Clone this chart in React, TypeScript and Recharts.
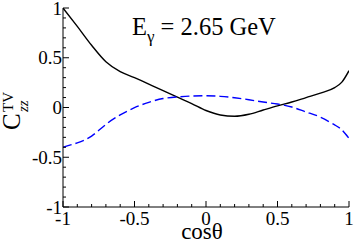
import { Label, Line, LineChart, XAxis, YAxis } from "recharts";

// cos(theta) grid the curves were read at
const cosTheta = [
  -1, -0.9, -0.8, -0.7, -0.6, -0.5, -0.4, -0.3, -0.2, -0.1, 0, 0.1, 0.2, 0.3,
  0.4, 0.5, 0.6, 0.7, 0.8, 0.9, 0.95, 1,
];
// solid black curve
const czzSolid = [
  1.0, 0.815, 0.625, 0.46, 0.36, 0.3, 0.236, 0.169, 0.104, 0.04, -0.03,
  -0.075, -0.088, -0.068, -0.025, 0.017, 0.055, 0.1, 0.145, 0.2, 0.255, 0.37,
];
// dashed blue curve
const czzDashed = [
  -0.4, -0.355, -0.287, -0.17, -0.074, -0.002, 0.052, 0.09, 0.106, 0.115,
  0.118, 0.112, 0.098, 0.078, 0.055, 0.035, 0.005, -0.045, -0.097, -0.175,
  -0.225, -0.31,
];
const axisTicks = [
  -1, -0.9, -0.8, -0.7, -0.6, -0.5, -0.4, -0.3, -0.2, -0.1, 0, 0.1, 0.2, 0.3,
  0.4, 0.5, 0.6, 0.7, 0.8, 0.9, 1,
];

const data = cosTheta.map((c, i) => ({
  c,
  solid: czzSolid[i],
  dashed: czzDashed[i],
}));

const FONT = "'Liberation Serif', 'Times New Roman', serif";
const isMajor = (v: number) => Math.abs(v * 2 - Math.round(v * 2)) < 1e-6;
const fmt = (v: number) => (Math.abs(v) < 1e-9 ? "0" : String(v));

function BottomTick({ x, y, payload }: any) {
  const v = payload.value;
  const major = isMajor(v);
  return (
    <g>
      <line x1={x} x2={x} y1={y} y2={y - (major ? 6 : 3)} stroke="#000" />
      {major && (
        <text x={x} y={y + 18} textAnchor="middle" fontSize={19} fontFamily={FONT} fill="#000">
          {fmt(v)}
        </text>
      )}
    </g>
  );
}

function TopTick({ x, y, payload }: any) {
  const major = isMajor(payload.value);
  return <line x1={x} x2={x} y1={y} y2={y + (major ? 6 : 3)} stroke="#000" />;
}

function LeftTick({ x, y, payload }: any) {
  const v = payload.value;
  const major = isMajor(v);
  return (
    <g>
      <line x1={x} x2={x + (major ? 6 : 3)} y1={y} y2={y} stroke="#000" />
      {major && (
        <text x={x - 1} y={y + 6.5} textAnchor="end" fontSize={19} fontFamily={FONT} fill="#000">
          {fmt(v)}
        </text>
      )}
    </g>
  );
}

function RightTick({ x, y, payload }: any) {
  const major = isMajor(payload.value);
  return <line x1={x} x2={x - (major ? 6 : 3)} y1={y} y2={y} stroke="#000" />;
}

// rotated C_zz^TV: in the rotated frame text-x = -screenY, text-y = screenX
const yTitle = () => (
  <g transform="rotate(-90)" fontFamily={FONT} fill="#000">
    <text x={-130} y={20} fontSize={25}>C</text>
    <text x={-112} y={13} fontSize={15}>TV</text>
    <text x={-112} y={28} fontSize={15} fontStyle="italic">zz</text>
  </g>
);

// axis title plus the in-plot energy note
const xTitle = () => (
  <g fontFamily={FONT} fill="#000">
    <text x={202} y={239} textAnchor="middle" fontSize={23}>
      cosθ
    </text>
    <text x={132} y={35} fontSize={24.5}>
      E
      <tspan dy={7} fontSize={17}>γ</tspan>
      <tspan dy={-7} fontSize={24.5}> = 2.65 GeV</tspan>
    </text>
  </g>
);

export default function App() {
  return (
    <div style={{ position: "absolute", left: 0, top: 0, background: "#fff" }}>
      <LineChart
        width={354}
        height={248}
        data={data}
        margin={{ top: 8, right: 5, left: 0, bottom: 0 }}
      >
        <XAxis
          xAxisId="b"
          dataKey="c"
          type="number"
          domain={[-1, 1]}
          ticks={axisTicks}
          interval={0}
          allowDataOverflow
          height={41}
          tickSize={0}
          tickMargin={0}
          tickLine={false}
          tick={BottomTick}
          axisLine={{ stroke: "#000" }}
        >
          <Label content={xTitle} />
        </XAxis>
        <XAxis
          xAxisId="t"
          orientation="top"
          dataKey="c"
          type="number"
          domain={[-1, 1]}
          ticks={axisTicks}
          interval={0}
          allowDataOverflow
          height={0}
          tickSize={0}
          tickMargin={0}
          tickLine={false}
          tick={TopTick}
          axisLine={{ stroke: "#000" }}
        />
        <YAxis
          yAxisId="l"
          type="number"
          domain={[-1, 1]}
          ticks={axisTicks}
          interval={0}
          allowDataOverflow
          width={63}
          tickSize={0}
          tickMargin={0}
          tickLine={false}
          tick={LeftTick}
          axisLine={{ stroke: "#000" }}
        >
          <Label content={yTitle} />
        </YAxis>
        <YAxis
          yAxisId="r"
          orientation="right"
          type="number"
          domain={[-1, 1]}
          ticks={axisTicks}
          interval={0}
          allowDataOverflow
          width={0}
          tickSize={0}
          tickMargin={0}
          tickLine={false}
          tick={RightTick}
          axisLine={{ stroke: "#000" }}
        />
        <Line
          xAxisId="b"
          yAxisId="l"
          dataKey="solid"
          type="monotone"
          stroke="#000"
          strokeWidth={1.4}
          dot={false}
          isAnimationActive={false}
        />
        <Line
          xAxisId="b"
          yAxisId="l"
          dataKey="dashed"
          type="natural"
          stroke="#0000ff"
          strokeWidth={1.4}
          strokeDasharray="9 4"
          dot={false}
          isAnimationActive={false}
        />
      </LineChart>
    </div>
  );
}
